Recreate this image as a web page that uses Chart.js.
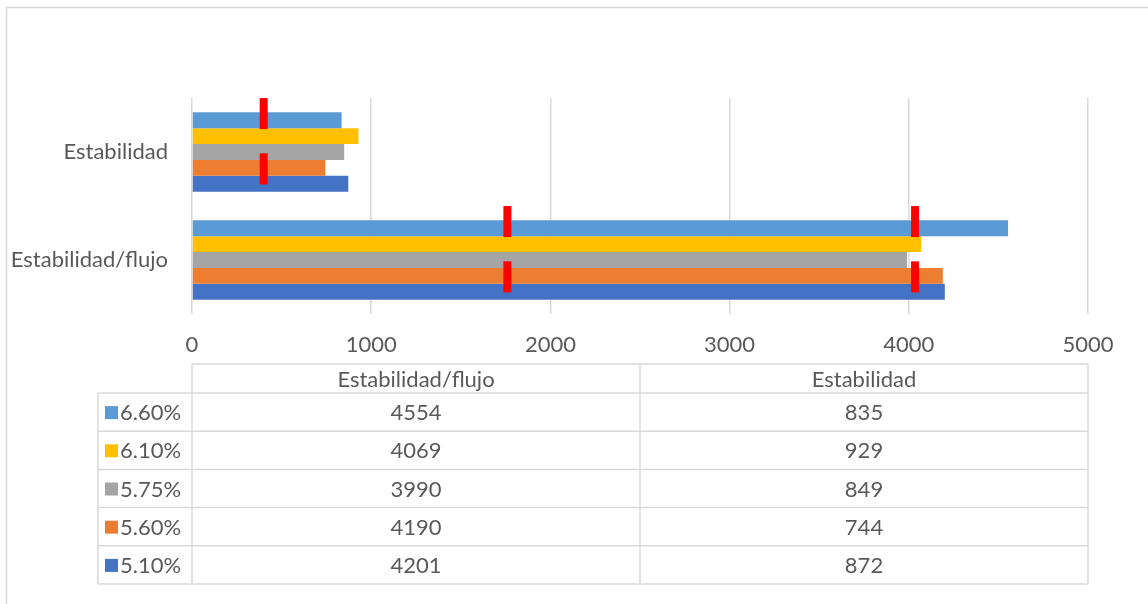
<!DOCTYPE html>
<html><head><meta charset="utf-8">
<script src="https://cdn.jsdelivr.net/npm/chart.js@4.4.0/dist/chart.umd.min.js"></script>
<style>html,body{margin:0;padding:0;background:#fff;}#wrap{position:relative;width:1148px;height:604px;}</style>
</head><body><div id="wrap"><canvas id="c" width="1148" height="604"></canvas></div>
<script>
const categories = ['Estabilidad/flujo', 'Estabilidad'];
const seriesLabels = ['6.60%', '6.10%', '5.75%', '5.60%', '5.10%'];
const s660 = [4554, 835];
const s610 = [4069, 929];
const s575 = [3990, 849];
const s560 = [4190, 744];
const s510 = [4201, 872];
const seriesColors = ['#5B9BD5', '#FFC000', '#A5A5A5', '#ED7D31', '#4472C4'];
const limitsFlujo = [1760, 4035];
const limitsEstabilidad = [400];
const xMin = 0, xMax = 5000, xStep = 1000;

const seriesValues = [s660, s610, s575, s560, s510];
const limitsByCategory = [limitsFlujo, limitsEstabilidad];

const FONT = 'Lato';
const FSIZE = 22;
const TXT = '#595959';
const LINE = '#d9d9d9';

const datasets = seriesLabels.map((l, i) => ({
  label: l, data: seriesValues[i], backgroundColor: seriesColors[i],
  borderWidth: 0, barPercentage: 1, categoryPercentage: 0.736
}));

const framePlugin = {
  id: 'frame',
  beforeDraw(chart) {
    const ctx = chart.ctx;
    ctx.save();
    ctx.fillStyle = '#fff';
    ctx.fillRect(0, 0, chart.width, chart.height);
    ctx.strokeStyle = LINE; ctx.lineWidth = 1.5;
    ctx.strokeRect(6.5, 7.5, chart.width + 10, chart.height + 10);
    ctx.restore();
  }
};

const markerPlugin = {
  id: 'markers',
  afterDatasetsDraw(chart) {
    const ctx = chart.ctx, x = chart.scales.x;
    const metaTop = chart.getDatasetMeta(0);
    ctx.save();
    ctx.fillStyle = '#FF0000';
    limitsByCategory.forEach((vals, ci) => {
      const el = metaTop.data[ci];
      const bh = el.height;
      const top = el.y - bh / 2;
      const centers = [top + 0.08 * bh, top + 3.56 * bh];
      vals.forEach(v => {
        const px = x.getPixelForValue(v);
        centers.forEach(cy => ctx.fillRect(px - 4, cy - 15.5, 8, 31));
      });
    });
    ctx.restore();
  }
};

const tablePlugin = {
  id: 'datatable',
  afterDraw(chart) {
    const ctx = chart.ctx, ca = chart.chartArea;
    const left = ca.left, right = ca.right;
    const colW = (right - left) / categories.length;
    const tTop = 364, headH = 29, rowH = 38.2, legLeft = 98;
    const bodyTop = tTop + headH;
    const bottom = bodyTop + rowH * seriesLabels.length;
    ctx.save();
    ctx.strokeStyle = LINE; ctx.lineWidth = 1.5;
    ctx.beginPath();
    ctx.moveTo(left, tTop); ctx.lineTo(right, tTop);
    for (let r = 0; r <= seriesLabels.length; r++) {
      const y = bodyTop + r * rowH;
      ctx.moveTo(legLeft, y); ctx.lineTo(right, y);
    }
    for (let c = 0; c <= categories.length; c++) {
      const xx = left + c * colW;
      ctx.moveTo(xx, tTop); ctx.lineTo(xx, bottom);
    }
    ctx.moveTo(legLeft, bodyTop); ctx.lineTo(legLeft, bottom);
    ctx.stroke();

    ctx.fillStyle = TXT;
    ctx.font = FSIZE + 'px ' + FONT;
    ctx.textAlign = 'center'; ctx.textBaseline = 'middle';
    categories.forEach((c, ci) => ctx.fillText(c, left + (ci + 0.5) * colW, tTop + headH / 2 + 1));
    seriesLabels.forEach((s, si) => {
      const cy = bodyTop + (si + 0.5) * rowH + 1;
      categories.forEach((c, ci) => {
        ctx.fillStyle = TXT; ctx.textAlign = 'center';
        ctx.fillText(String(seriesValues[si][ci]), left + (ci + 0.5) * colW, cy);
      });
      ctx.fillStyle = seriesColors[si];
      ctx.fillRect(105, cy - 7, 13, 13);
      ctx.fillStyle = TXT; ctx.textAlign = 'left';
      ctx.fillText(s, 120, cy);
    });
    ctx.restore();
  }
};

new Chart(document.getElementById('c'), {
  type: 'bar',
  data: { labels: categories, datasets },
  options: {
    indexAxis: 'y',
    responsive: false,
    animation: false,
    layout: { padding: { top: 98, right: 60, left: 0, bottom: 0 } },
    plugins: { legend: { display: false }, tooltip: { enabled: false } },
    scales: {
      x: {
        min: xMin, max: xMax,
        ticks: { stepSize: xStep, color: TXT, font: { family: FONT, size: FSIZE }, padding: 18,
                 callback: v => String(v) },
        grid: { color: LINE, lineWidth: 1.5, drawTicks: false },
        border: { display: false },
        afterFit(s) { s.height = 290; }
      },
      y: {
        reverse: true,
        ticks: { color: TXT, font: { family: FONT, size: FSIZE }, padding: 24 },
        grid: { display: false, drawTicks: false },
        border: { display: false },
        afterFit(s) { s.width = 192; }
      }
    }
  },
  plugins: [framePlugin, markerPlugin, tablePlugin]
});
</script></body></html>
